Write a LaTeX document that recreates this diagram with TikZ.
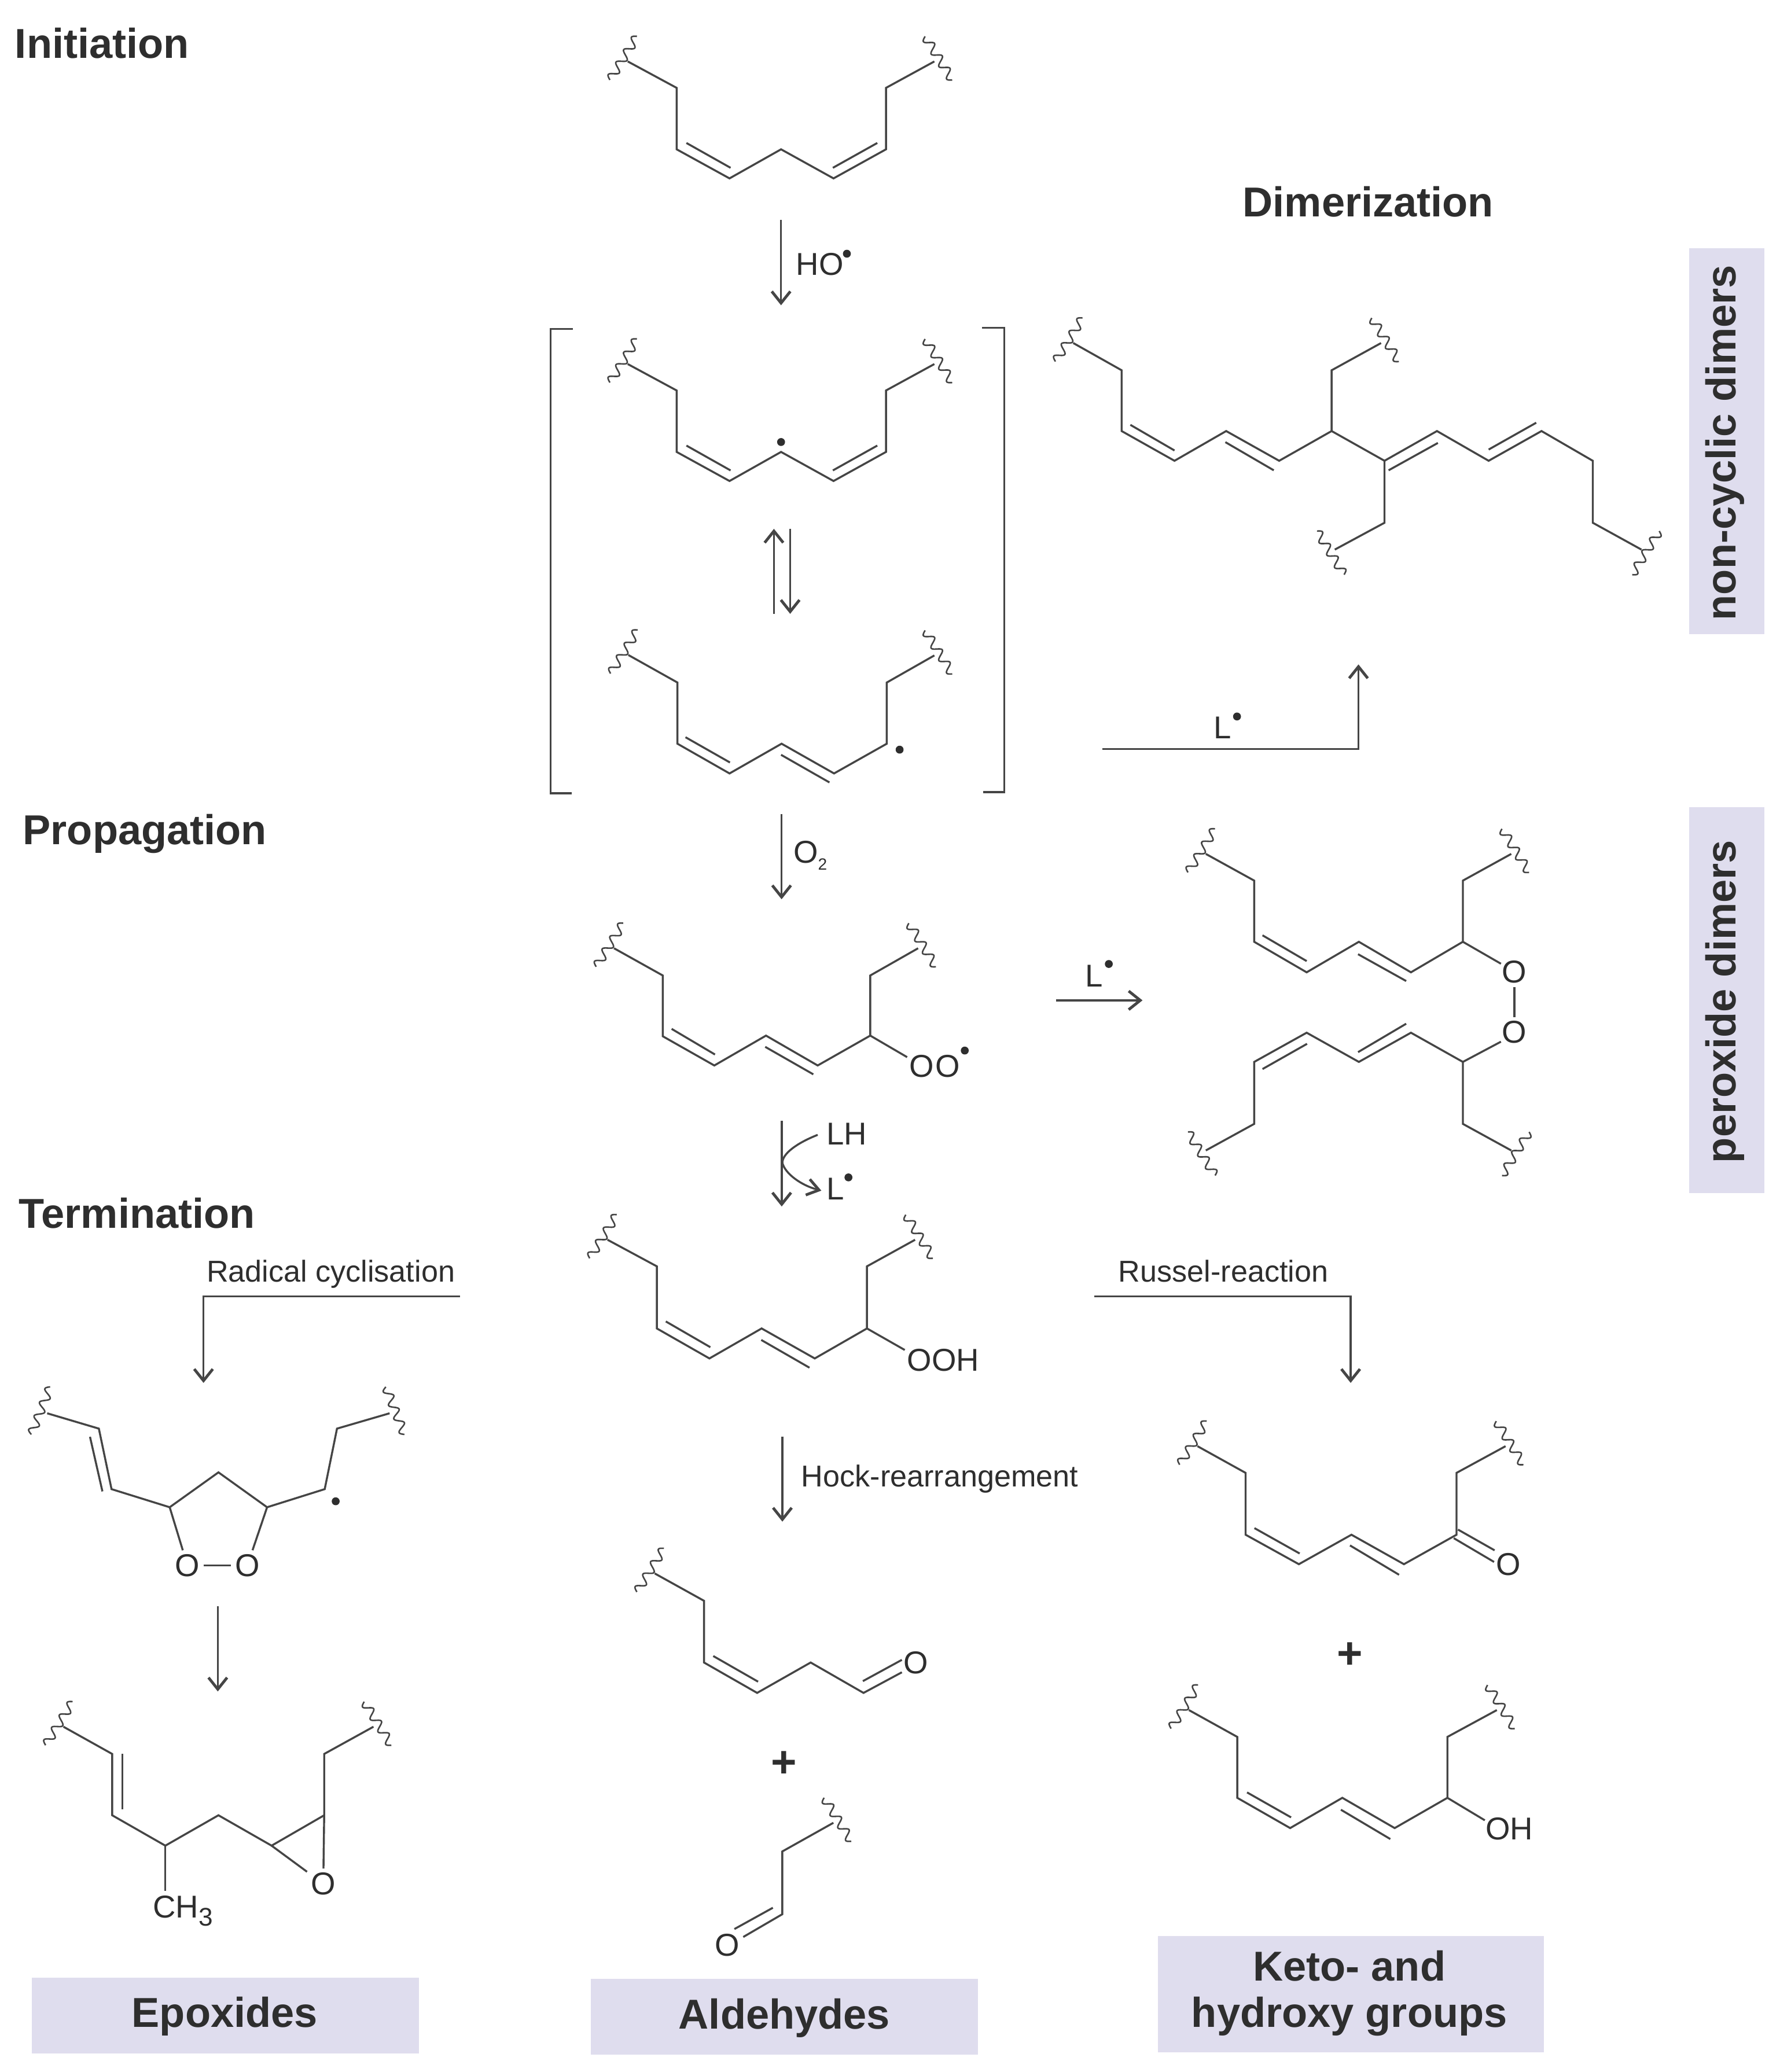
\documentclass[tikz,border=0pt]{standalone}
\usepackage{fontspec}
\setmainfont{Liberation Sans}
\usetikzlibrary{arrows.meta}
\definecolor{ink}{HTML}{454545}
\definecolor{txt}{HTML}{2E2E2E}
\definecolor{boxfill}{HTML}{DFDDEE}
\tikzset{
  bond/.style={draw=ink,line width=0.85pt,line join=miter},
  wigline/.style={draw=ink,line width=0.65pt},
  rarrow/.style={draw=ink,line width=0.85pt,-{Straight Barb[length=5pt,width=8pt,line width=1.2pt]}},
  atom/.style={text=txt,font=\fontsize{13.6}{15}\selectfont,inner sep=1.5pt},
  lab/.style={text=txt,font=\fontsize{13}{15}\selectfont,inner sep=0pt},
  heading/.style={text=txt,font=\fontsize{18}{21}\selectfont\bfseries,inner sep=0pt,anchor=west},
  classtext/.style={text=txt,font=\fontsize{18}{21}\selectfont\bfseries,inner sep=0pt,align=center},
  plus/.style={text=txt,font=\fontsize{19}{22}\selectfont\bfseries,inner sep=0pt}
}
\newcommand{\wig}[6]{\draw[wigline] plot[domain=0:1,samples=80,smooth] ({#1+(#3)+((#5)-(#3))*\x+3*sin(3.5*360*\x)*((#6)-(#4))/36},{#2+(#4)+((#6)-(#4))*\x-3*sin(3.5*360*\x)*((#5)-(#3))/36});}
\newcommand{\wTL}[2]{\wig{#1}{#2}{-13.5}{14}{7}{-19}}
\newcommand{\wTR}[2]{\wig{#1}{#2}{13.5}{14}{-7}{-19}}
\newcommand{\wBL}[2]{\wig{#1}{#2}{-13.5}{-14}{7}{19}}
\newcommand{\wBR}[2]{\wig{#1}{#2}{13.5}{-14}{-7}{19}}
\newcommand{\rdot}[2]{\fill[txt] (#1,#2) circle (3);}
% bis-allylic chain with its apex at (591,#1)
\newcommand{\skipdiene}[1]{%
  \begin{scope}[shift={(591,#1)}]
  \draw[bond] (-116,-66.5)--(-79,-46.5)--(-79,0)--(-39,22)--(0,0)--(39.7,22)--(79.4,0)--(79.4,-46.5)--(116,-66.5);
  \draw[bond] (-71.6,-4.8)--(-38.2,14);
  \draw[bond] (39.2,14)--(72.8,-4.8);
  \wTL{-116}{-66.5}\wTR{116}{-66.5}
  \end{scope}}
\begin{document}
\begin{tikzpicture}[x=0.02cm,y=-0.02cm]
\fill[white] (0,0) rectangle (1355.2,1568);
\useasboundingbox (0,0) rectangle (1355.2,1568);

% headings
\node[heading] (hInit) at (11,32.5) {Initiation};
\node[heading] (hDim) at (940,152.5) {Dimerization};
\node[heading] (hProp) at (17,631) {Propagation};
\node[heading] (hTerm) at (14,918) {Termination};

% class boxes
\fill[boxfill] (1278,188) rectangle (1335,480);
\fill[boxfill] (1278,611) rectangle (1335,903);
\fill[boxfill] (24,1496.5) rectangle (317,1554);
\fill[boxfill] (447,1497.5) rectangle (740,1555);
\fill[boxfill] (876,1465) rectangle (1168,1553);
\node[classtext,rotate=90] (tNon) at (1305,335) {non-cyclic dimers};
\node[classtext,rotate=90] (tPer) at (1305,758) {peroxide dimers};
\node[classtext] (tEpo) at (170,1526) {Epoxides};
\node[classtext] (tAld) at (593.5,1527) {Aldehydes};
\node[classtext] (tKet) at (1021,1508.5) {Keto- and\\[-1pt]hydroxy groups};

% M1, M2
\skipdiene{113}
\skipdiene{342}
\rdot{591}{334.5}

% M3
\draw[bond] (475.5,495.7)--(512.6,516.5)--(512.6,562.8)--(552,585.3)--(591.4,562.8)--(631.1,585.3)--(671,562.8)--(671,516.5)--(707,496);
\draw[bond] (518.7,557.9)--(552.3,577);
\draw[bond] (591,571.2)--(627.6,592.1);
\wTL{475.5}{495.7}\wTR{707}{496}
\rdot{680.7}{567.3}

% brackets
\draw[bond] (433.5,249)--(416.5,249)--(416.5,600.3)--(432.7,600.3);
\draw[bond] (743,248)--(760,248)--(760,599.5)--(744,599.5);

% arrows, central column
\coordinate (a1s) at (591,166.6); \coordinate (a1e) at (591,231);
\draw[rarrow] (a1s)--(a1e);
\node[atom,anchor=west,inner sep=0pt] (lHO) at (602,200) {HO};
\rdot{640.8}{192}
\coordinate (equ1) at (585.6,464.5); \coordinate (equ2) at (585.6,400.2);
\coordinate (eqd1) at (597.9,400.2); \coordinate (eqd2) at (597.9,464.5);
\draw[rarrow] (equ1)--(equ2);
\draw[rarrow] (eqd1)--(eqd2);
\coordinate (a2s) at (591.4,616); \coordinate (a2e) at (591.4,680.5);
\draw[rarrow] (a2s)--(a2e);
\node[atom,anchor=west,inner sep=0pt] (lO2) at (600,647.5) {O\raisebox{-3pt}{\fontsize{7}{8}\selectfont 2}};

% M4 peroxyl radical
\draw[bond] (464.6,717.6)--(501.5,738.2)--(501.5,784.2)--(540.5,806.3)--(579.6,783.7)--(618.7,806.3)--(658.5,783.7)--(658.5,738.2)--(694.7,717.6);
\draw[bond] (508.2,778.6)--(541,798);
\draw[bond] (579,792.2)--(615.4,813);
\node[atom] (m4o1) at (697.5,806.8) {O};
\node[atom] (m4o2) at (717,806.8) {O};
\draw[bond] (658.5,783.7)--(686.4,800);
\wTL{464.6}{717.6}\wTR{694.7}{717.6}
\rdot{730}{795}

% LH step
\coordinate (a3s) at (591.5,848.2); \coordinate (a3e) at (591.5,913);
\draw[rarrow] (a3s)--(a3e);
\node[atom,anchor=west,inner sep=0pt] (lLH) at (625,858) {LH};
\node[atom,anchor=west,inner sep=0pt] (lL) at (625,899.5) {L};
\rdot{642}{891}
\coordinate (cvs) at (618.7,858.8); \coordinate (cvm) at (592,880); \coordinate (cve) at (621.5,901);
\draw[bond] (cvs) .. controls (603,865) and (592,873) .. (cvm);
\draw[rarrow,-{Straight Barb[length=5pt,width=7pt,line width=1.2pt]}] (cvm) .. controls (594,888) and (606,897) .. (cve);

% M5 hydroperoxide
\draw[bond] (459.7,938.2)--(497,958.3)--(497,1005.3)--(536.8,1028)--(576.3,1005.3)--(616.5,1028)--(656,1005.3)--(656,958.3)--(692.4,938.2);
\draw[bond] (503.8,1000)--(537.5,1019.5);
\draw[bond] (576,1014)--(612.5,1035);
\draw[bond] (656,1005.3)--(684.6,1021.6);
\node[atom,inner sep=0pt] (m5o) at (713.6,1029.5) {OOH};
\wTL{459.7}{938.2}\wTR{692.4}{938.2}

% Hock
\coordinate (a4s) at (592,1087); \coordinate (a4e) at (592,1151.5);
\draw[rarrow] (a4s)--(a4e);
\node[lab,anchor=west] (lHock) at (606,1119) {Hock-rearrangement};

% M6 aldehyde
\draw[bond] (495.4,1190.7)--(532.7,1211.4)--(532.7,1258.1)--(572.9,1281.1)--(613.4,1258.1)--(653.4,1281.1)--(682.4,1265.5);
\draw[bond] (539.7,1253.2)--(573.6,1272.6);
\draw[bond] (652.9,1272.2)--(682.4,1256.1);
\node[atom] (m6o) at (693.1,1258.1) {O};
\wTL{495.4}{1190.7}
\node[plus] (pAld) at (593.3,1335) {+};

% M7 aldehyde
\draw[bond] (630.6,1379.4)--(591.9,1401.1)--(591.9,1448.6)--(562.4,1465.8);
\draw[bond] (584.8,1443.7)--(555.7,1459.8);
\node[atom] (m7o) at (550.2,1472.1) {O};
\wTR{630.6}{1379.4}

% dimerisation
\draw[bond] (812.1,259.6)--(848.7,280.2)--(848.7,326.2)--(888.7,348.7)--(927.8,326.2)--(967.9,348.7)--(1007.6,326.2)--(1047.6,348.7)--(1087.3,326.2)--(1126.4,348.7)--(1166.4,326.2)--(1205.2,348.7)--(1205.2,395.6)--(1242,415.9);
\draw[bond] (1007.6,326.2)--(1007.6,280.2)--(1045,259.6);
\draw[bond] (1047.6,348.7)--(1047.6,395.6)--(1010,415.9);
\draw[bond] (855.3,321.5)--(888.7,340.9);
\draw[bond] (927.2,334.6)--(963.8,355.9);
\draw[bond] (1050.7,355.9)--(1088,335.2);
\draw[bond] (1126.4,340.2)--(1162.4,319.9);
\wTL{812.1}{259.6}\wTR{1045}{259.6}\wBL{1010}{415.9}\wBR{1242}{415.9}
\coordinate (dimS) at (834,566.9); \coordinate (dimC) at (1027.9,566.9); \coordinate (dimE) at (1027.9,502.8);
\draw[rarrow] (dimS)--(dimC)--(dimE);
\node[atom,inner sep=0pt] (lLd) at (925,550.5) {L};
\rdot{936}{542.2}

% peroxide dimer
\coordinate (perS) at (799,757); \coordinate (perE) at (864.5,757);
\draw[rarrow] (perS)--(perE);
\node[atom,inner sep=0pt] (lLp) at (828,738.5) {L};
\rdot{839}{729.5}
\draw[bond] (912.4,646.2)--(949,666.4)--(949,712.7)--(988.7,735.8)--(1028.2,712.7)--(1067.6,735.8)--(1106.9,712.7)--(1106.9,666.4)--(1143.5,646.2);
\draw[bond] (955.3,707.8)--(988.7,727.3);
\draw[bond] (1027.6,722.1)--(1064,742.4);
\node[atom] (pO1) at (1145.8,735.6) {O};
\node[atom] (pO2) at (1145.8,781.1) {O};
\draw[bond] (1106.9,712.7)--(1135.7,729.3);
\draw[bond] (1106.9,803.6)--(1135.7,788.3);
\draw[bond] (pO1)--(pO2);
\draw[bond] (912.4,870.6)--(949,850.5)--(949,803.6)--(988.7,781.5)--(1028.2,803.6)--(1067.6,781.5)--(1106.9,803.6)--(1106.9,850.5)--(1143.5,870.6);
\draw[bond] (955.3,809)--(989,789.9);
\draw[bond] (1027.6,796.2)--(1064,774.7);
\wTL{912.4}{646.2}\wTR{1143.5}{646.2}
\wBL{912.4}{870.6}
\wBR{1143.5}{870.6}

% Russel
\coordinate (rusS) at (828,981); \coordinate (rusC) at (1022,981); \coordinate (rusE) at (1022,1046.5);
\draw[rarrow] (rusS)--(rusC)--(rusE);
\node[lab,anchor=west] (lRus) at (846,962) {Russel-reaction};

% keto
\draw[bond] (906.1,1094.4)--(942.5,1114.6)--(942.5,1161.4)--(982.8,1183.7)--(1022.6,1161.4)--(1062.3,1183.7)--(1102.1,1161.4)--(1102.1,1114.6)--(1139.2,1094.4);
\draw[bond] (949.2,1156.4)--(983.4,1175.6);
\draw[bond] (1021.5,1169.5)--(1058.6,1191.7);
\draw[bond] (1100,1164)--(1130.5,1182);
\draw[bond] (1103.2,1157.5)--(1130.9,1173.2);
\node[atom] (kO) at (1141.3,1184) {O};
\wTL{906.1}{1094.4}\wTR{1139.2}{1094.4}
\node[plus] (pKet) at (1021.5,1253) {+};

% hydroxy
\draw[bond] (899.6,1294.1)--(936.2,1314.4)--(936.2,1360.5)--(976.2,1383.4)--(1015.7,1360.5)--(1055.3,1383.4)--(1095.2,1360.5)--(1095.2,1314.4)--(1132.6,1294.1);
\draw[bond] (943.6,1356.4)--(976.9,1375.3);
\draw[bond] (1014.6,1369.5)--(1052,1391.7);
\draw[bond] (1095.2,1360.5)--(1123.5,1377.5);
\node[atom,inner sep=0pt] (hOH) at (1142,1384) {OH};
\wTL{899.6}{1294.1}\wTR{1132.6}{1294.1}

% radical cyclisation
\coordinate (radS) at (348,981); \coordinate (radC) at (154,981); \coordinate (radE) at (154,1046.5);
\draw[rarrow] (radS)--(radC)--(radE);
\node[lab,anchor=west] (lRad) at (156,964) {Radical cyclisation};

\node[atom] (cO1) at (141.8,1184.6) {O};
\node[atom] (cO2) at (187.2,1184.6) {O};
\draw[bond] (35.7,1069.5)--(74.8,1081.1)--(84.4,1126.9)--(128.4,1140.6)--(165.3,1114.2)--(202.1,1140.6)--(245.7,1126.9)--(255,1081.1)--(294.8,1069.5);
\draw[bond] (68.1,1087.3)--(77.5,1128.6);
\draw[bond] (128.4,1140.6)--(cO1);
\draw[bond] (202.1,1140.6)--(cO2);
\draw[bond] (cO1)--(cO2);
\wig{35.7}{1069.5}{-12}{16}{2.3}{-20}
\wig{294.8}{1069.5}{11.2}{16}{-2.8}{-20}
\rdot{254}{1136.1}
\coordinate (cycS) at (164.8,1215.6); \coordinate (cycE) at (164.8,1280);
\draw[rarrow] (cycS)--(cycE);

% epoxide
\node[atom] (eO) at (244.6,1425.5) {O};
\node[atom,anchor=west,inner sep=0pt] (eCH) at (115.5,1446) {CH\raisebox{-3.5pt}{\fontsize{11}{12}\selectfont 3}};
\draw[bond] (48,1306.7)--(84.9,1327.3)--(84.9,1373.7)--(125.1,1396.7)--(165.3,1373.7)--(205.5,1396.7)--(245.3,1373.7)--(245.3,1327.3)--(282.6,1306.7);
\draw[bond] (92.7,1327.3)--(92.7,1369.2);
\draw[bond] (125.1,1396.7)--(125.1,1431);
\draw[bond] (205.5,1396.7)--(eO);
\draw[bond] (245.3,1373.7)--(eO);
\wTL{48}{1306.7}\wTR{282.6}{1306.7}
\end{tikzpicture}
\end{document}
